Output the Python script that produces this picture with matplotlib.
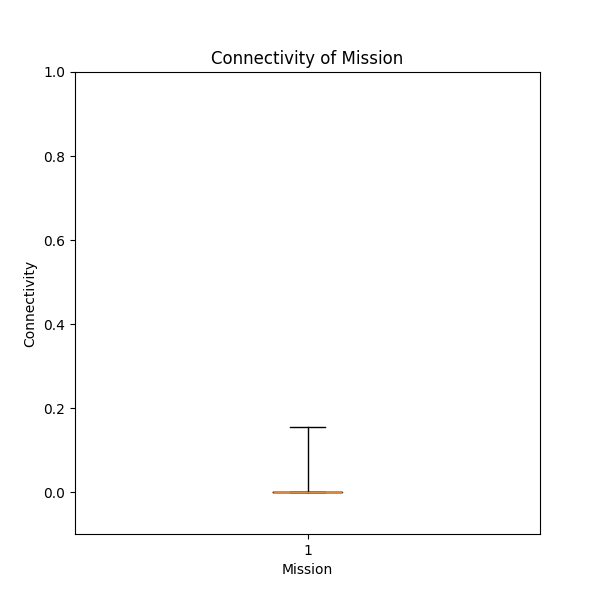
import matplotlib
matplotlib.use("Agg")
import matplotlib.pyplot as plt

connectivity = [0.0, 0.0, 0.0, 0.0, 0.0, 0.0, 0.0, 0.0, 0.0, 0.0, 0.155]

fig, ax = plt.subplots(figsize=(6, 6), dpi=100)
ax.boxplot([connectivity], whis=(0, 100))
ax.set_ylim(-0.1, 1.0)
ax.set_title("Connectivity of Mission")
ax.set_xlabel("Mission")
ax.set_ylabel("Connectivity")
fig.savefig("out.png")
